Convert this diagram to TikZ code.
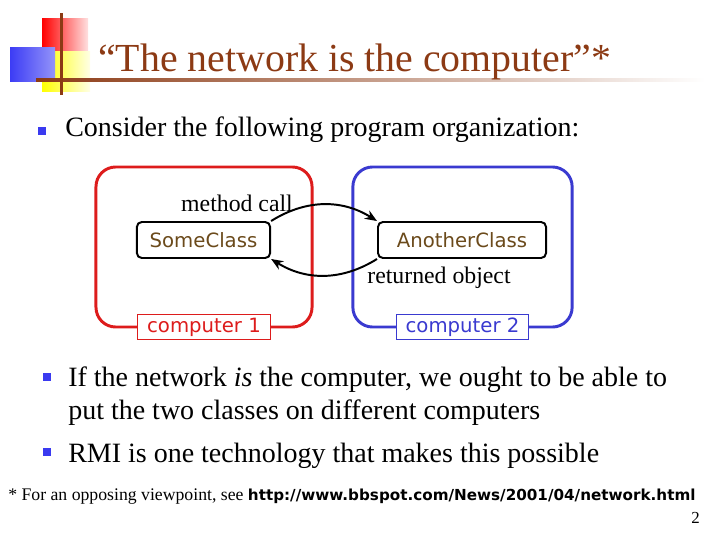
\documentclass[tikz,border=0pt]{standalone}
\usepackage{fontspec}
\setmainfont{Liberation Serif}
\setsansfont{DejaVu Sans}
\usetikzlibrary{arrows.meta,positioning}
\definecolor{titlebrown}{HTML}{8C3A14}
\definecolor{classbrown}{HTML}{6B4A1B}
\definecolor{pcred}{HTML}{DD1C1C}
\definecolor{pcblue}{HTML}{3A3AD0}
\definecolor{bulletblue}{HTML}{3A3AF0}
\definecolor{logoblue}{HTML}{3C3CF5}
\tikzset{
  sqbullet/.style={fill=bulletblue,minimum size=0.22cm,inner sep=0pt},
  bodytext/.style={font=\fontsize{19.9}{22.8}\selectfont,inner sep=0pt},
  note/.style={font=\fontsize{16.9}{19}\selectfont,inner sep=0pt},
  pcbox/.style={line width=2.1pt,rounded corners=14pt,
                minimum height=4cm,inner sep=0pt},
  pclabel/.style={fill=white,line width=0.7pt,minimum width=3.3cm,
                  minimum height=0.62cm,inner sep=0pt,
                  font=\sffamily\fontsize{14}{16}\selectfont},
  classbox/.style={draw=black,fill=white,line width=1.4pt,rounded corners=3.5pt,
                   minimum height=0.9cm,inner sep=0pt,
                   font=\sffamily\fontsize{14}{16}\selectfont,text=classbrown},
  callarrow/.style={-{Stealth[length=3mm,width=2.4mm]},line width=1.4pt}
}

\begin{document}
\begin{tikzpicture}[x=0.025cm,y=0.025cm]
  \useasboundingbox (0,0) rectangle (720,540);

  % logo
  \shade[left color=red,middle color=red,right color=red!12] (42,488) rectangle (88,521);
  \shade[left color=yellow,middle color=yellow,right color=yellow!10] (42,448) rectangle (90,488);
  \shade[left color=logoblue,right color=logoblue!55] (10,458) rectangle (55,492);
  \shade[left color=titlebrown,right color=white] (36,458.5) rectangle (705,461.5);
  \fill[titlebrown] (59.5,445) rectangle (62.5,527);

  % title and first bullet
  \node[anchor=base west,inner sep=0pt,text=titlebrown,
        font=\fontsize{28.3}{32}\selectfont] (title) at (98,468) {“The network is the computer”*};
  \node[sqbullet] (b1) at (42,409) {};
  \node[bodytext,anchor=base west] (consider) at (65,403) {Consider the following program organization:};

  % the two computers
  \node[pcbox,draw=pcred,minimum width=5.4cm] (pc1) at (204,293) {};
  \node[pcbox,draw=pcblue,minimum width=5.48cm] (pc2) at (462.5,293) {};
  \node[pclabel,draw=pcred,text=pcred] (lab1) at ([yshift=1]pc1.south) {computer 1};
  \node[pclabel,draw=pcblue,text=pcblue] (lab2) at ([yshift=1]pc2.south) {computer 2};

  \node[classbox,minimum width=3.33cm] (some) at (203.5,300) {SomeClass};
  \node[classbox,minimum width=4.2cm] (another) at (462,300) {AnotherClass};
  \node[note] (call) at (237,337) {method call};
  \node[note] (ret) at (439,262) {returned object};
  \draw[callarrow] (some.north east) to[out=32,in=148] (another.north west);
  \draw[callarrow] (another.south west) to[out=-148,in=-32] (some.south east);

  % remaining bullets
  \node[sqbullet] (b2) at (47,163) {};
  \node[bodytext,anchor=base west,align=left] (ifnet) at (68,121)
    {If the network \textit{is} the computer, we ought to be able to\\put the two classes on different computers};
  \node[sqbullet] (b3) at (47,88) {};
  \node[bodytext,anchor=base west] (rmi) at (68,78) {RMI is one technology that makes this possible};

  % footnote
  \node[anchor=base west,inner sep=0pt,font=\fontsize{12.6}{14}\selectfont] (foot) at (8,40)
    {* For an opposing viewpoint, see {\sffamily\bfseries\fontsize{10.8}{13}\selectfont http://www.bbspot.com/News/2001/04/network.html}};
  \node[anchor=base east,inner sep=0pt,font=\fontsize{12}{14}\selectfont] (pageno) at (700,17) {2};
\end{tikzpicture}
\end{document}
